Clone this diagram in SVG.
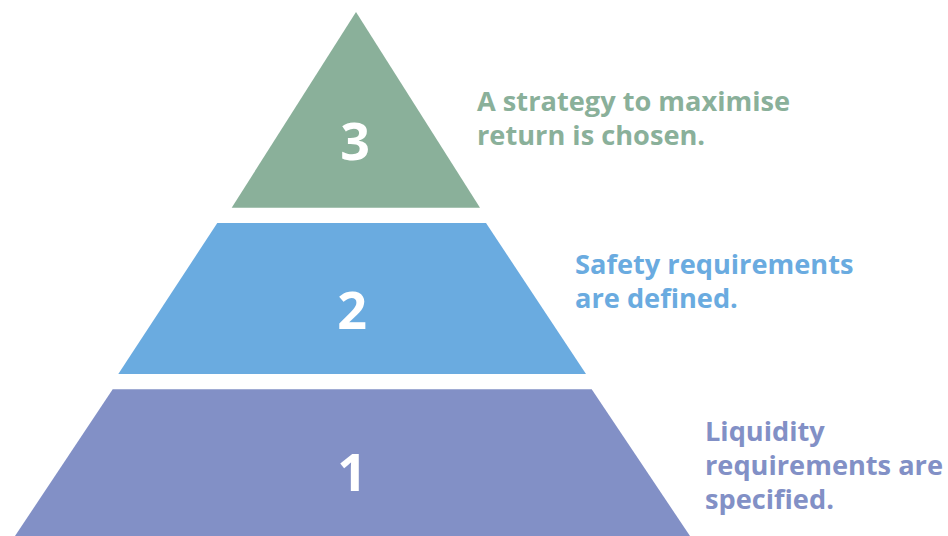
<svg xmlns="http://www.w3.org/2000/svg" width="948" height="536" viewBox="0 0 948 536">
<style>
.num{font-family:"Open Sans","Noto Sans","Liberation Sans",sans-serif;font-weight:700;font-size:52px;fill:#ffffff;text-anchor:middle}
.lbl{font-family:"Open Sans","Noto Sans","Liberation Sans",sans-serif;font-weight:700;font-size:27.2px}
.g{fill:#8AB09A}
.b{fill:#6AABE0}
.p{fill:#8290C6}
</style>
<rect width="948" height="536" fill="#ffffff"/>
<g id="tier3">
<polygon class="g" points="356,12 480,207.7 231.7,207.7"/>
<text class="num" x="355" y="160">3</text>
<text class="lbl g" x="477" y="111">A strategy to maximise<tspan x="477" dy="34">return is chosen.</tspan></text>
</g>
<g id="tier2">
<polygon class="b" points="217.3,223 486,223 586,374 118.3,374"/>
<text class="num" x="352" y="329">2</text>
<text class="lbl b" x="575" y="274">Safety requirements<tspan x="575" dy="34">are defined.</tspan></text>
</g>
<g id="tier1">
<polygon class="p" points="112.7,389.3 591.7,389.3 690,536 15,536"/>
<text class="num" x="352" y="491">1</text>
<text class="lbl p" x="705" y="441">Liquidity<tspan x="705" dy="34">requirements are</tspan><tspan x="705" dy="34">specified.</tspan></text>
</g>
<g id="connectors"></g>
</svg>
